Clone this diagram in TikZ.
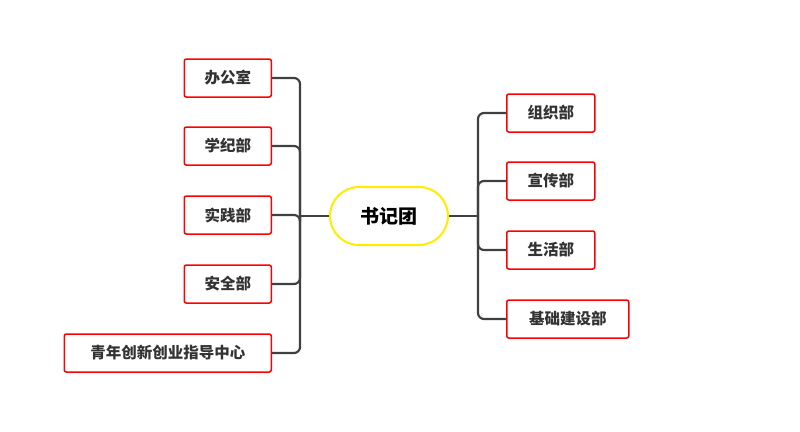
\documentclass[tikz,border=0pt]{standalone}
\usepackage{fontspec}
\newfontfamily\cjk{Noto Sans CJK SC}
\begin{document}
\begin{tikzpicture}[x=1pt,y=-1pt,
  box/.style={draw=red,line width=1.5pt,rounded corners=2pt,minimum height=38pt,inner xsep=4pt,font=\cjk\bfseries\fontsize{15.5pt}{18pt}\selectfont,text=black!80},
  conn/.style={draw=black!75,line width=2.2pt,rounded corners=6pt}]
\useasboundingbox (0,0) rectangle (800,431);
\node[draw=yellow!95!orange,line width=2pt,rounded corners=29pt,minimum width=118pt,minimum height=58pt,font=\cjk\bfseries\fontsize{19pt}{22pt}\selectfont] (root) at (389,216) {书记团};
\node[box,anchor=east,minimum width=87pt] (l1) at (272,78) {办公室};
\node[box,anchor=east,minimum width=87pt] (l2) at (272,146) {学纪部};
\node[box,anchor=east,minimum width=87pt] (l3) at (272,215) {实践部};
\node[box,anchor=east,minimum width=87pt] (l4) at (272,284) {安全部};
\node[box,anchor=east,minimum width=207pt] (l5) at (272,353) {青年创新创业指导中心};
\node[box,anchor=west,minimum width=88pt] (r1) at (506,113) {组织部};
\node[box,anchor=west,minimum width=88pt] (r2) at (506,181) {宣传部};
\node[box,anchor=west,minimum width=88pt] (r3) at (506,250) {生活部};
\node[box,anchor=west,minimum width=122pt] (r4) at (506,319) {基础建设部};
\coordinate (lj) at (300,216);
\coordinate (rj) at (478,216);
\draw[conn] (root.west) -- (lj);
\draw[conn] (root.east) -- (rj);
\foreach \n in {l1,l2,l3,l4,l5}{\draw[conn] (lj) |- (\n.east);}
\foreach \n in {r1,r2,r3,r4}{\draw[conn] (rj) |- (\n.west);}
\end{tikzpicture}
\end{document}
